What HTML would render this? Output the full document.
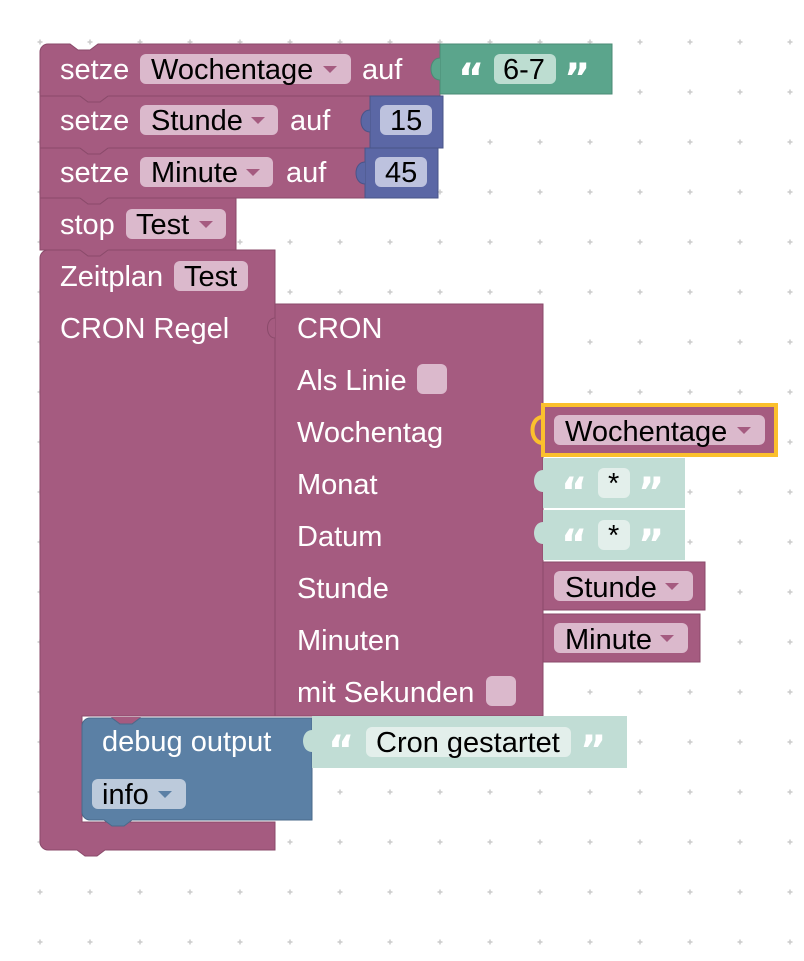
<!DOCTYPE html>
<html><head><meta charset="utf-8"><style>
html,body{margin:0;padding:0;background:#fff}
svg text{font-family:"Liberation Sans",Arial,sans-serif;font-size:29px}
.w{fill:#fff}.b{fill:#000}
.q{font-family:"DejaVu Sans",sans-serif;font-weight:bold;font-size:40px;fill:#fff}
</style></head><body>
<svg width="804" height="956" viewBox="0 0 804 956" xmlns="http://www.w3.org/2000/svg">
<defs>
<pattern id="g" x="0" y="0" width="50" height="50" patternUnits="userSpaceOnUse">
<path d="M37.5 42h5M40 39.5v5" stroke="#ccc" stroke-width="1.5"/>
</pattern>
</defs>
<rect width="804" height="956" fill="url(#g)"/>

<path d="M40 258 a8 8 0 0 1 8-8 h227 v466 h-193 v106 h193 v28 h-170 l-8 6 h-12 l-8-6 h-29 a8 8 0 0 1-8-8z" fill="#a55b80" stroke="#8a4a6a" stroke-width="1"/>
<rect x="275" y="304" width="268" height="412" fill="#a55b80" stroke="#8a4a6a"/>
<path d="M275 318 c-10 0 -10 20 0 20" fill="#a55b80" stroke="#8a4a6a"/>
<path d="M40 52 a8 8 0 0 1 8-8 h22 l8 6 h12 l8-6 h342 v52 h-400z" fill="#a55b80" stroke="#8a4a6a"/>
<path d="M40 96 h40 l8 6 h12 l8-6 h262 v52 h-330z" fill="#a55b80" stroke="#8a4a6a"/>
<path d="M40 148 h40 l8 6 h12 l8-6 h257 v50 h-325z" fill="#a55b80" stroke="#8a4a6a"/>
<path d="M40 198 h40 l8 6 h12 l8-6 h128 v52 h-196z" fill="#a55b80" stroke="#8a4a6a"/>
<g fill="#a55b80">
<path d="M79 95 h30 l-8 7 h-14z"/>
<path d="M79 147 h30 l-8 7 h-14z"/>
<path d="M79 197 h30 l-8 7 h-14z"/>
<path d="M79 249 h30 l-8 7 h-14z"/>
</g>
<g fill="none" stroke="#8a4a6a">
<path d="M80 96 l8 6 h12 l8-6"/><path d="M80 148 l8 6 h12 l8-6"/><path d="M80 198 l8 6 h12 l8-6"/><path d="M80 250 l8 6 h12 l8-6"/>
</g>

<text x="60" y="79" class="w">setze</text>
<rect x="140" y="54" width="211" height="30" rx="6" fill="#dbb9cc"/>
<text x="151" y="79" class="b">Wochentage</text><path d="M323 66h14l-7 7z" fill="#a55b80"/>
<text x="362" y="79" class="w">auf</text>
<rect x="440" y="44" width="172" height="50" fill="#5ba58c" stroke="#4a8a74"/>
<path d="M440 58 c-12 0 -12 22 0 22" fill="#5ba58c" stroke="#4a8a74"/>
<text x="458" y="92" class="q">“</text>
<rect x="494" y="54" width="62" height="30" rx="6" fill="#bdddd1"/>
<text x="503" y="79" class="b">6-7</text>
<text x="564" y="92" class="q">”</text>

<text x="60" y="130" class="w">setze</text>
<rect x="140" y="105" width="138" height="30" rx="6" fill="#dbb9cc"/>
<text x="151" y="130" class="b">Stunde</text><path d="M251 117h14l-7 7z" fill="#a55b80"/>
<text x="290" y="130" class="w">auf</text>
<rect x="370" y="96" width="73" height="52" fill="#5b67a5" stroke="#4a5488"/>
<path d="M370 110 c-12 0 -12 22 0 22" fill="#5b67a5" stroke="#4a5488"/>
<rect x="380" y="105" width="52" height="30" rx="6" fill="#bdc2de"/>
<text x="390" y="130" class="b">15</text>

<text x="60" y="182" class="w">setze</text>
<rect x="140" y="157" width="133" height="30" rx="6" fill="#dbb9cc"/>
<text x="151" y="182" class="b">Minute</text><path d="M246 169h14l-7 7z" fill="#a55b80"/>
<text x="286" y="182" class="w">auf</text>
<rect x="365" y="148" width="73" height="50" fill="#5b67a5" stroke="#4a5488"/>
<path d="M365 162 c-12 0 -12 22 0 22" fill="#5b67a5" stroke="#4a5488"/>
<rect x="375" y="157" width="52" height="30" rx="6" fill="#bdc2de"/>
<text x="385" y="182" class="b">45</text>

<text x="60" y="234" class="w">stop</text>
<rect x="126" y="209" width="100" height="30" rx="6" fill="#dbb9cc"/>
<text x="136" y="234" class="b">Test</text><path d="M199 221h14l-7 7z" fill="#a55b80"/>

<text x="60" y="286" class="w">Zeitplan</text>
<rect x="174" y="261" width="74" height="30" rx="6" fill="#dbb9cc"/>
<text x="184" y="286" class="b">Test</text>
<text x="60" y="338" class="w">CRON Regel</text>

<text x="297" y="338" class="w">CRON</text>
<text x="297" y="390" class="w">Als Linie</text>
<rect x="417" y="364" width="30" height="30" rx="6" fill="#dbb9cc"/>
<text x="297" y="442" class="w">Wochentag</text>
<text x="297" y="494" class="w">Monat</text>
<text x="297" y="546" class="w">Datum</text>
<text x="297" y="598" class="w">Stunde</text>
<text x="297" y="650" class="w">Minuten</text>
<text x="297" y="702" class="w">mit Sekunden</text>
<rect x="486" y="676" width="30" height="30" rx="6" fill="#dbb9cc"/>

<rect x="543" y="405" width="233" height="50" fill="#a55b80" stroke="#fbc02d" stroke-width="4"/>
<path d="M543 417 c-14 0 -14 26 0 26" fill="none" stroke="#fbc02d" stroke-width="4"/>
<rect x="554" y="415" width="211" height="30" rx="6" fill="#dbb9cc"/>
<text x="565" y="441" class="b">Wochentage</text><path d="M737 427h14l-7 7z" fill="#a55b80"/>

<rect x="543" y="458" width="142" height="50" fill="#c1ddd5"/>
<path d="M543 470 c-12 0 -12 22 0 22" fill="#c1ddd5"/>
<text x="561" y="506" class="q">“</text>
<rect x="598" y="468" width="32" height="30" rx="6" fill="#e3efeb"/>
<text x="608" y="493" class="b" font-size="24">*</text>
<text x="638" y="506" class="q">”</text>

<rect x="543" y="510" width="142" height="50" fill="#c1ddd5"/>
<path d="M543 522 c-12 0 -12 22 0 22" fill="#c1ddd5"/>
<text x="561" y="558" class="q">“</text>
<rect x="598" y="520" width="32" height="30" rx="6" fill="#e3efeb"/>
<text x="608" y="545" class="b" font-size="24">*</text>
<text x="638" y="558" class="q">”</text>

<rect x="543" y="562" width="162" height="48" fill="#a55b80" stroke="#8a4a6a"/>
<rect x="554" y="571" width="139" height="30" rx="6" fill="#dbb9cc"/>
<text x="565" y="597" class="b">Stunde</text><path d="M665 583h14l-7 7z" fill="#a55b80"/>
<rect x="543" y="614" width="157" height="48" fill="#a55b80" stroke="#8a4a6a"/>
<rect x="554" y="623" width="134" height="30" rx="6" fill="#dbb9cc"/>
<text x="565" y="649" class="b">Minute</text><path d="M660 635h14l-7 7z" fill="#a55b80"/>

<path d="M82 726 a8 8 0 0 1 8-8 h22 l8 6 h12 l8-6 h172 v102 h-180 l-8 6 h-12 l-8-6 h-14 a8 8 0 0 1-8-8z" fill="#5b80a5" stroke="#4a6a8a"/>
<path d="M111 717 h30 l-8 7 h-14z" fill="#a55b80"/>
<path d="M112 718 l8 6 h12 l8-6" fill="none" stroke="#4a6a8a"/>
<rect x="312" y="716" width="315" height="52" fill="#c1ddd5"/>
<path d="M312 730 c-12 0 -12 22 0 22" fill="#c1ddd5"/>
<text x="102" y="751" class="w">debug output</text>
<text x="328" y="764" class="q">“</text>
<rect x="366" y="727" width="205" height="30" rx="6" fill="#e3efeb"/>
<text x="376" y="752" class="b">Cron gestartet</text>
<text x="580" y="764" class="q">”</text>
<rect x="92" y="779" width="94" height="30" rx="6" fill="#bccadb"/>
<text x="102" y="804" class="b">info</text><path d="M158 791h14l-7 7z" fill="#5b80a5"/>
</svg>
</body></html>
